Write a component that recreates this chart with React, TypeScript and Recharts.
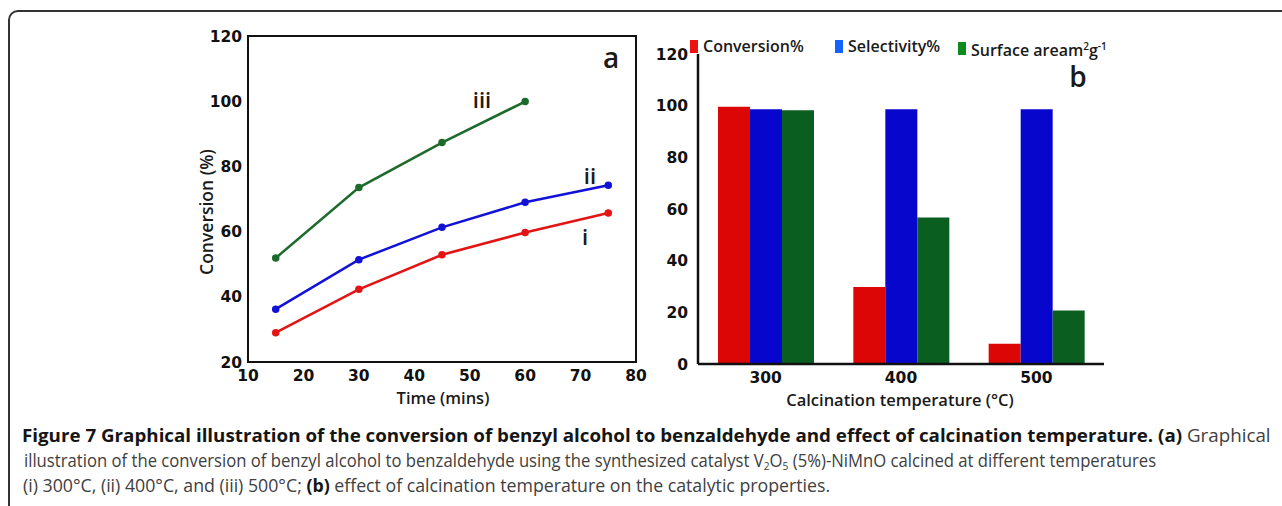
import React from "react";
import {
  LineChart,
  Line,
  BarChart,
  Bar,
  XAxis,
  YAxis,
  ReferenceArea,
} from "recharts";

// panel a: conversion vs time
const times = [15, 30, 45, 60, 75];
const convI = [29, 42.3, 52.9, 59.7, 65.7];
const convII = [36.2, 51.4, 61.3, 69, 74.2];
const convIII = [51.9, 73.5, 87.3, 99.9, null];
const timeTicks = [10, 20, 30, 40, 50, 60, 70, 80];
const convTicks = [20, 40, 60, 80, 100, 120];

// panel b: calcination temperature
const temps = ["300", "400", "500"];
const conversion = [99.6, 29.8, 7.8];
const selectivity = [98.6, 98.6, 98.6];
const surfaceArea = [98.2, 56.7, 20.7];
const pctTicks = [0, 20, 40, 60, 80, 100, 120];

const lineData = times.map((t, i) => ({
  time: t,
  i: convI[i],
  ii: convII[i],
  iii: convIII[i],
}));

const barData = temps.map((t, i) => ({
  temp: t,
  conversion: conversion[i],
  selectivity: selectivity[i],
  surface: surfaceArea[i],
}));

const tickFont = {
  fontFamily: "DejaVu Sans, Verdana, sans-serif",
  fontWeight: 700,
  fontSize: 15.5,
  fill: "#111",
};

const titleFont: React.CSSProperties = {
  fontFamily: "'Open Sans', sans-serif",
  fontWeight: 600,
  fontSize: 16,
  color: "#1a1a1a",
  position: "absolute",
  whiteSpace: "nowrap",
};

const legendItems = [
  { label: "Conversion%", color: "#ee1111", left: 690 },
  { label: "Selectivity%", color: "#1463ff", left: 835 },
  { label: "Surface aream", color: "#0f8a1f", left: 958, sup: true },
];

function Tag({ x, y, text, size = 22 }: { x: number; y: number; text: string; size?: number }) {
  return (
    <div
      style={{
        ...titleFont,
        left: x,
        top: y,
        fontSize: size,
        transform: "translate(-50%, -50%)",
        lineHeight: 1,
      }}
    >
      {text}
    </div>
  );
}

const subStyle: React.CSSProperties = { fontSize: 11, lineHeight: 0, verticalAlign: "-3px" };
const capLine = (sx: number): React.CSSProperties => ({
  transformOrigin: "0 0",
  transform: `scaleX(${sx})`,
});

export default function App() {
  return (
    <div
      style={{
        position: "absolute",
        left: 0,
        top: 0,
        width: 1282,
        height: 506,
        overflow: "hidden",
        background: "#fff",
      }}
    >
      {/* figure frame */}
      <div
        style={{
          position: "absolute",
          left: 8,
          top: 10,
          width: 1400,
          height: 600,
          border: "2px solid #333",
          borderTopLeftRadius: 10,
        }}
      />

      {/* Panel a */}
      <div style={{ position: "absolute", left: 180, top: 20 }}>
        <LineChart
          width={470}
          height={400}
          data={lineData}
          margin={{ top: 16, right: 14, left: 0, bottom: 0 }}
        >
          <ReferenceArea
            x1={10}
            x2={80}
            y1={20}
            y2={120}
            fill="none"
            stroke="#111"
            strokeWidth={2}
          />
          <XAxis
            dataKey="time"
            type="number"
            domain={[10, 80]}
            ticks={timeTicks}
            tickLine={false}
            axisLine={{ stroke: "#111", strokeWidth: 2 }}
            tick={tickFont}
            height={58}
            interval={0}
          />
          <YAxis
            type="number"
            domain={[20, 120]}
            ticks={convTicks}
            tickLine={false}
            axisLine={{ stroke: "#111", strokeWidth: 2 }}
            tick={tickFont}
            tickMargin={0}
            width={68}
            interval={0}
          />
          <Line
            dataKey="i"
            stroke="#e41414"
            strokeWidth={2.5}
            dot={{ r: 2.5, fill: "#e41414", stroke: "#e41414" }}
            isAnimationActive={false}
          />
          <Line
            dataKey="ii"
            stroke="#1212d6"
            strokeWidth={2.5}
            dot={{ r: 2.5, fill: "#1212d6", stroke: "#1212d6" }}
            isAnimationActive={false}
          />
          <Line
            dataKey="iii"
            stroke="#1d6a2c"
            strokeWidth={2.5}
            dot={{ r: 2.5, fill: "#1d6a2c", stroke: "#1d6a2c" }}
            isAnimationActive={false}
          />
        </LineChart>
      </div>
      <div
        style={{
          ...titleFont,
          fontSize: 17.5,
          left: 207,
          top: 212,
          transform: "translate(-50%, -50%) rotate(-90deg)",
          lineHeight: 1,
        }}
      >
        Conversion (%)
      </div>
      <div style={{ ...titleFont, fontSize: 16.5, left: 443, top: 398, transform: "translate(-50%, -50%)", lineHeight: 1 }}>
        Time (mins)
      </div>
      <Tag x={482} y={99} text="iii" />
      <Tag x={590} y={175} text="ii" />
      <Tag x={585} y={236} text="i" />
      <Tag x={611} y={57} text="a" size={28} />

      {/* Panel b */}
      <div style={{ position: "absolute", left: 640, top: 20 }}>
        <BarChart
          width={480}
          height={400}
          data={barData}
          margin={{ top: 34, right: 16, left: 0, bottom: 0 }}
          barGap={0}
          barCategoryGap={20}
        >
          <XAxis
            dataKey="temp"
            tickLine={false}
            axisLine={{ stroke: "#111", strokeWidth: 2.5 }}
            tick={tickFont}
            height={56}
          />
          <XAxis
            xAxisId="top"
            dataKey="temp"
            orientation="top"
            tick={false}
            tickLine={false}
            axisLine={{ stroke: "#111", strokeWidth: 2.5 }}
            height={0}
          />
          <YAxis
            type="number"
            domain={[0, 120]}
            ticks={pctTicks}
            tickLine={false}
            axisLine={{ stroke: "#111", strokeWidth: 2.5 }}
            tick={tickFont}
            tickMargin={4}
            width={58}
            interval={0}
          />
          <YAxis
            yAxisId="right"
            orientation="right"
            domain={[0, 120]}
            tick={false}
            tickLine={false}
            axisLine={{ stroke: "#111", strokeWidth: 2.5 }}
            width={0}
          />
          <Bar dataKey="conversion" fill="#dd0606" isAnimationActive={false} />
          <Bar dataKey="selectivity" fill="#0606cc" isAnimationActive={false} />
          <Bar dataKey="surface" fill="#0a5e1f" isAnimationActive={false} />
        </BarChart>
      </div>
      {legendItems.map((it) => (
        <div
          key={it.label}
          style={{ ...titleFont, left: it.left, top: 37, lineHeight: "18px", display: "flex", alignItems: "center" }}
        >
          <span style={{ display: "inline-block", width: 8, height: 13, background: it.color, marginRight: 5 }} />
          <span>
            {it.label}
            {it.sup ? (
              <>
                <sup style={{ fontSize: 10 }}>2</sup>g<sup style={{ fontSize: 10 }}>-1</sup>
              </>
            ) : null}
          </span>
        </div>
      ))}
      <div style={{ ...titleFont, fontSize: 16.5, left: 900, top: 400, transform: "translate(-50%, -50%)", lineHeight: 1 }}>
        Calcination temperature (°C)
      </div>
      <Tag x={1078} y={76} text="b" size={28} />

      {/* Caption */}
      <div
        style={{
          position: "absolute",
          left: 22,
          top: 423,
          fontFamily: "'Open Sans', sans-serif",
          fontSize: 18,
          lineHeight: "25px",
          color: "#404040",
          whiteSpace: "nowrap",
        }}
      >
        <div style={capLine(1.042)}>
          <b style={{ color: "#151515" }}>
            Figure 7 Graphical illustration of the conversion of benzyl alcohol to benzaldehyde and effect of calcination
            temperature. (a)
          </b>{" "}
          Graphical
        </div>
        <div style={{ ...capLine(0.926), marginLeft: 2 }}>
          illustration of the conversion of benzyl alcohol to benzaldehyde using the synthesized catalyst V
          <sub style={subStyle}>2</sub>O<sub style={subStyle}>5</sub> (5%)-NiMnO calcined at different temperatures
        </div>
        <div style={{ ...capLine(0.985), marginLeft: 1 }}>
          (i) 300°C, (ii) 400°C, and (iii) 500°C; <b style={{ color: "#151515" }}>(b)</b> effect of calcination temperature on
          the catalytic properties.
        </div>
      </div>
    </div>
  );
}
